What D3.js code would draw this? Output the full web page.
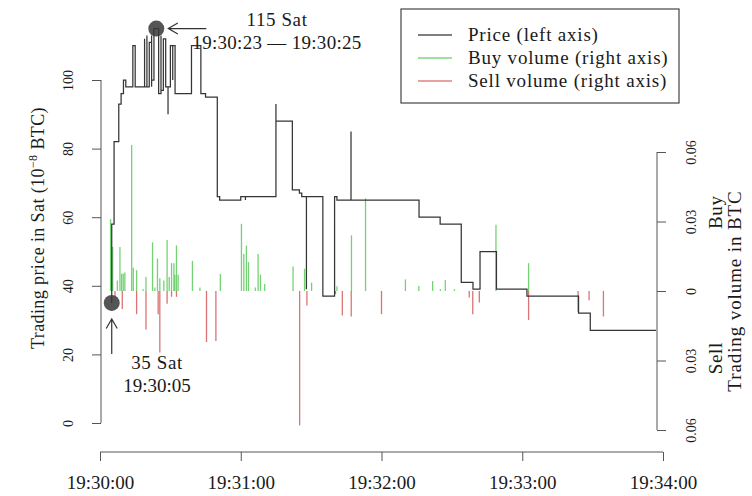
<!DOCTYPE html>
<html><head><meta charset="utf-8">
<script src="https://cdn.jsdelivr.net/npm/d3@7/dist/d3.min.js"></script>
<style>
body{margin:0;background:#fff}
svg{display:block}
text{font-family:"Liberation Serif","DejaVu Serif",serif;fill:#1a1a1a}
</style>
</head><body>
<svg id="chart" width="752" height="496"></svg>
<script>
// ---------- data (times in seconds after 19:30:00) ----------
const priceTimes  = [5,5,6,8,9,10,11,14,15,19,19,20,20,21,22,22,22,23,25,26,26,27,28,29,29,30,31,31,32,39,43,45,50,51,60,62,62,75,75,82,85,86,88,88,95,100,101,107,107,136,145,154,159,162,169,182,204,209,237];
const priceValues = [35,58,82,93,96,100,98,110,98,112,98,113,98,111,98,113,100,115,96,113,97,112,98,90,98,110,100,110,96,110,96,95,66,65,66,65,66,93,88,68,67,66,39,66,37,66,65,85,65,60,58,41,39,50,39,37,32,27,27];

const buyTimes   = [4.5,5.4,7.4,8.5,9.2,9.9,10.6,13.5,14.2,15.6,18.4,19.6,22.4,23.4,24.5,25.5,27.2,28.6,29.5,30.5,31.5,31.9,32.6,33.3,39.4,42.6,51.3,60.3,61.3,62.4,63.3,66.2,67.4,68.4,70.2,82.3,87.2,90.2,101,107.2,113.2,130.2,135.9,141.8,145.1,147.2,151.1,168.8,182.7];
const buyVolumes = [0.031,0.019,0.0045,0.019,0.0075,0.0075,0.008,0.063,0.010,0.009,0.0008,0.006,0.021,0.0015,0.014,0.0055,0.0045,0.022,0.006,0.012,0.012,0.007,0.0197,0.007,0.013,0.0015,0.0073,0.029,0.016,0.0196,0.0125,0.0015,0.016,0.007,0.003,0.0106,0.0096,0.0036,0.002,0.024,0.040,0.005,0.0022,0.0043,0.0008,0.0048,0.0007,0.0286,0.012];

const sellTimes   = [6.4,9.5,15.6,19.6,24.8,25.5,28.6,30.5,32.6,45.4,49.4,85.1,88.2,100.4,103.3,107.1,120,157.4,158.9,161.7,182.7,203.8,208.5,214.6];
const sellVolumes = [0.0028,0.0078,0.010,0.0166,0.010,0.0266,0.0055,0.0025,0.0025,0.022,0.0216,0.058,0.0063,0.0013,0.0106,0.011,0.010,0.0028,0.010,0.005,0.0125,0.009,0.004,0.011];

const priceTicks = [0,20,40,60,80,100];
const volumeTicks = [-0.06,-0.03,0,0.03,0.06];
const volumeTickLabels = ["0.06","0.03","0","0.03","0.06"];
const timeTickLabels = ["19:30:00","19:31:00","19:32:00","19:33:00","19:34:00"];
const legendLabels = ["Price (left axis)","Buy volume (right axis)","Sell volume (right axis)"];
const annotTimes  = [24, 5];
const annotPrices = [115, 35];

// ---------- layout ----------
const left = 101, right = 657;
const colPrice = "#353535", colBuy = "rgba(70,195,70,0.75)", colSell = "rgba(205,70,70,0.75)";
const axisCol = "#555";

const parse = d3.timeParse("%H:%M:%S");
const t0 = parse(timeTickLabels[0]);
const toDate = s => new Date(t0.getTime() + s*1000);

const x = d3.scaleTime()
  .domain([t0, parse(timeTickLabels[timeTickLabels.length-1])])
  .range([100, 663]);
const yP = d3.scaleLinear().domain([0, 100]).range([423, 80]);
const yV = d3.scaleLinear().domain([-0.06, 0.06]).range([430, 152]);

const svg = d3.select("#chart");

// ---------- volume bars ----------
svg.append("g").selectAll("line").data(buyTimes.map((t,i)=>[t,buyVolumes[i]])).join("line")
  .attr("x1", d=>x(toDate(d[0]))).attr("x2", d=>x(toDate(d[0])))
  .attr("y1", yV(0)).attr("y2", d=>yV(d[1]))
  .attr("stroke", colBuy).attr("stroke-width", 1.3);
svg.append("g").selectAll("line").data(sellTimes.map((t,i)=>[t,sellVolumes[i]])).join("line")
  .attr("x1", d=>x(toDate(d[0]))).attr("x2", d=>x(toDate(d[0])))
  .attr("y1", yV(0)).attr("y2", d=>yV(-d[1]))
  .attr("stroke", colSell).attr("stroke-width", 1.3);

// ---------- price step line ----------
const line = d3.line()
  .x((d,i)=>x(toDate(priceTimes[i])))
  .y((d,i)=>yP(priceValues[i]))
  .curve(d3.curveStepAfter);
svg.append("path").attr("d", line(priceValues))
  .attr("fill","none").attr("stroke",colPrice).attr("stroke-width",1.25);

// ---------- axes ----------
const fontTick = "14px", fontBig = "19px";
// left axis
const gL = svg.append("g").attr("transform",`translate(${left},0)`)
  .call(d3.axisLeft(yP).tickValues(priceTicks).tickSize(9).tickPadding(0).tickFormat(d3.format("d")));
gL.select(".domain").attr("stroke",axisCol).attr("d",`M0,${yP(0)}V${yP(100)}`);
gL.selectAll(".tick line").attr("stroke",axisCol);
gL.selectAll(".tick text").attr("transform","translate(-28,0) rotate(-90)")
  .attr("x",0).attr("y",0).attr("dy",0).attr("text-anchor","middle")
  .style("font-size",fontTick).style("font-family",'"Liberation Serif",serif').attr("fill","#1a1a1a");

// bottom axis
const gB = svg.append("g").attr("transform","translate(0,452)")
  .call(d3.axisBottom(x).tickValues(timeTickLabels.map(parse)).tickSize(9).tickFormat(d3.timeFormat("%H:%M:%S")));
gB.select(".domain").attr("stroke",axisCol).attr("d",`M${x(t0)},0H${x(parse(timeTickLabels[4]))}`);
gB.selectAll(".tick line").attr("stroke",axisCol);
gB.selectAll(".tick text").attr("y",37).attr("dy",0)
  .style("font-size",fontBig).style("font-family",'"Liberation Serif",serif').attr("fill","#1a1a1a");

// right axis
const gR = svg.append("g").attr("transform",`translate(${right},0)`)
  .call(d3.axisRight(yV).tickValues(volumeTicks).tickSize(9).tickFormat((d,i)=>volumeTickLabels[i]));
gR.select(".domain").attr("stroke",axisCol).attr("d",`M0,${yV(-0.06)}V${yV(0.06)}`);
gR.selectAll(".tick line").attr("stroke",axisCol);
gR.selectAll(".tick text").attr("transform","translate(39,0) rotate(-90)")
  .attr("x",0).attr("y",0).attr("dy",0).attr("text-anchor","middle")
  .style("font-size",fontTick).style("font-family",'"Liberation Serif",serif').attr("fill","#1a1a1a");

// axis titles
const yt = svg.append("text").attr("transform","translate(44,228) rotate(-90)")
  .attr("text-anchor","middle").style("font-size","18px").style("letter-spacing","0.4px");
yt.append("tspan").text("Trading price in Sat (10");
yt.append("tspan").text("\u22128").attr("dy",-7).style("font-size","12px");
yt.append("tspan").text(" BTC)").attr("dy",7);

svg.append("text").attr("transform",`translate(722,${yV(0.034)}) rotate(-90)`)
  .attr("text-anchor","middle").style("font-size","19px").style("letter-spacing","0.6px").text("Buy");
svg.append("text").attr("transform",`translate(722,${yV(-0.029)}) rotate(-90)`)
  .attr("text-anchor","middle").style("font-size","19px").style("letter-spacing","0.6px").text("Sell");
svg.append("text").attr("transform",`translate(741,${yV(0)}) rotate(-90)`)
  .attr("text-anchor","middle").style("font-size","19px").style("letter-spacing","0.9px").text("Trading volume in BTC");

// ---------- annotations ----------
const cx = annotTimes.map(t=>x(toDate(t))), cy = annotPrices.map(p=>yP(p));
svg.selectAll("circle.ann").data(cx).join("circle").attr("class","ann")
  .attr("cx",(d,i)=>cx[i]).attr("cy",(d,i)=>cy[i]).attr("r",8)
  .attr("fill","rgba(55,55,55,0.85)");

function arrow(x1,y1,x2,y2){
  const a = Math.atan2(y2-y1,x2-x1), L = 11, th = Math.PI/6;
  svg.append("path").attr("d",
    `M${x1},${y1}L${x2},${y2}M${x2-L*Math.cos(a-th)},${y2-L*Math.sin(a-th)}L${x2},${y2}L${x2-L*Math.cos(a+th)},${y2-L*Math.sin(a+th)}`)
    .attr("fill","none").attr("stroke","#333").attr("stroke-width",1.2);
}
arrow(cx[0]+50, cy[0], cx[0]+12, cy[0]);
arrow(cx[1], cy[1]+51, cx[1], cy[1]+16);

svg.append("text").attr("x",277).attr("y",cy[0]-3).attr("text-anchor","middle").style("font-size",fontBig)
  .style("letter-spacing","0.6px").text(annotPrices[0] + " Sat");
svg.append("text").attr("x",277).attr("y",cy[0]+20).attr("text-anchor","middle").style("font-size",fontBig)
  .style("letter-spacing","0.3px").text("19:30:23 \u2014 19:30:25");
svg.append("text").attr("x",157).attr("y",cy[1]+66).attr("text-anchor","middle").style("font-size",fontBig)
  .style("letter-spacing","0.6px").text(annotPrices[1] + " Sat");
svg.append("text").attr("x",157).attr("y",cy[1]+89).attr("text-anchor","middle").style("font-size",fontBig)
  .text("19:30:05");

// ---------- legend ----------
const lg = svg.append("g");
lg.append("rect").attr("x",401).attr("y",9).attr("width",278).attr("height",94)
  .attr("fill","#fff").attr("stroke","#444").attr("stroke-width",1.2);
const legCols = ["#555", "#7fd47f", "#e08080"];
legendLabels.forEach((lab,i)=>{
  const yy = 35 + i*23;
  lg.append("line").attr("x1",418).attr("x2",452).attr("y1",yy).attr("y2",yy)
    .attr("stroke",legCols[i]).attr("stroke-width",1.5);
  lg.append("text").attr("x",468).attr("y",yy+6).style("font-size",fontBig)
    .style("letter-spacing","0.8px").text(lab);
});
</script>
</body></html>
